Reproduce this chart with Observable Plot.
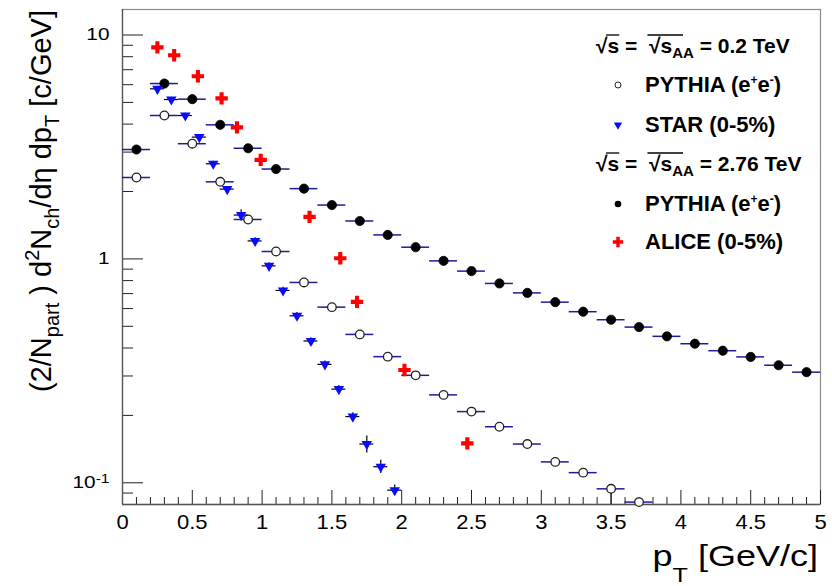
<!DOCTYPE html>
<html>
<head>
<meta charset="utf-8">
<script src="https://cdn.jsdelivr.net/npm/d3@7"></script>
<script src="https://cdn.jsdelivr.net/npm/@observablehq/plot@0.6"></script>
<style>
  body { margin: 0; background: #fff; }
  #fig { width: 832px; height: 586px; }
</style>
</head>
<body>
<div id="fig"></div>
<script>
// PYTHIA (e+e-), sqrt(s) = 2.76 TeV: bin centres (GeV/c) and yields
const pythia276Pt = [0.1, 0.3, 0.5, 0.7, 0.9, 1.1, 1.3, 1.5, 1.7, 1.9, 2.1, 2.3, 2.5,
                     2.7, 2.9, 3.1, 3.3, 3.5, 3.7, 3.9, 4.1, 4.3, 4.5, 4.7, 4.9];
const pythia276Yield = [3.08, 6.07, 5.17, 3.97, 3.12, 2.52, 2.06, 1.74, 1.477, 1.28, 1.128, 0.980, 0.882,
                        0.777, 0.705, 0.641, 0.581, 0.535, 0.496, 0.451, 0.418, 0.389, 0.365, 0.335, 0.312];

// PYTHIA (e+e-), sqrt(s) = 0.2 TeV
const pythia02Pt = [0.1, 0.3, 0.5, 0.7, 0.9, 1.1, 1.3, 1.5, 1.7, 1.9, 2.1, 2.3, 2.5,
                    2.7, 2.9, 3.1, 3.3, 3.5, 3.7];
const pythia02Yield = [2.31, 4.37, 3.27, 2.21, 1.50, 1.079, 0.785, 0.609, 0.460, 0.366, 0.302, 0.247, 0.208,
                       0.178, 0.149, 0.124, 0.111, 0.094, 0.082];
const pythia02ErrLow = [0, 0, 0, 0, 0, 0, 0, 0, 0, 0, 0, 0, 0,
                        0, 0, 0, 0, 0.016, 0.008];
const pythiaBinHalfWidth = 0.1;

// STAR Au+Au 0-5%, sqrt(s_NN) = 200 GeV
const starPt = [0.25, 0.35, 0.45, 0.55, 0.65, 0.75, 0.85, 0.95, 1.05, 1.15, 1.25, 1.35,
                1.45, 1.55, 1.65, 1.75, 1.85, 1.95];
const starYield = [5.75, 5.15, 4.37, 3.50, 2.66, 2.05, 1.57, 1.203, 0.931, 0.723, 0.557, 0.430,
                   0.338, 0.262, 0.1976, 0.149, 0.118, 0.0927];
const starErr = [0.15, 0.12, 0.10, 0.08, 0.07, 0.05, 0.09, 0.04, 0.03, 0.025, 0.02, 0.015,
                 0.012, 0.010, 0.008, 0.013, 0.008, 0.005];
const starBinHalfWidth = 0.05;

// ALICE Pb+Pb 0-5%, sqrt(s_NN) = 2.76 TeV
const alicePt = [0.25, 0.37, 0.54, 0.71, 0.82, 0.99, 1.34, 1.56, 1.68, 2.02, 2.47];
const aliceYield = [8.81, 8.12, 6.54, 5.21, 3.87, 2.77, 1.54, 1.007, 0.643, 0.319, 0.150];

// Axis ticks and labels
const xMajorTicks = [0, 0.5, 1, 1.5, 2, 2.5, 3, 3.5, 4, 4.5, 5];
const xTickLabels = ["0", "0.5", "1", "1.5", "2", "2.5", "3", "3.5", "4", "4.5", "5"];
const xMinorTicks = d3.range(1, 50).map(i => i / 10).filter(v => !xMajorTicks.includes(v));
const yMajorTicks = [0.1, 1, 10];
const yTickLabels = ["10-1", "1", "10"];   // "10-1" is drawn as 10 with a raised -1
const yMinorTicks = [0.09, 0.2, 0.3, 0.4, 0.5, 0.6, 0.7, 0.8, 0.9, 2, 3, 4, 5, 6, 7, 8, 9];

// Legend rows: energy headers and entries
const legendEnergies = ["0.2", "2.76"];
const legendEntries = [
  {marker: "open", label: "PYTHIA", ee: true},
  {marker: "star", label: "STAR (0-5%)"},
  {marker: "full", label: "PYTHIA", ee: true},
  {marker: "alice", label: "ALICE (0-5%)"}
];

const W = 832, H = 586;
const mL = 122, mR = 12, mT = 9, mB = 82;
const innerW = W - mL - mR, innerH = H - mT - mB;
const font = "'Liberation Sans', Arial, Helvetica, sans-serif";
const barBlue = "#1c1c9e";
const starBlue = "#0a0aff";
const aliceRed = "#ff0000";

const pythia276 = pythia276Pt.map((x, i) => ({x, y: pythia276Yield[i]}));
const pythia02 = pythia02Pt.map((x, i) => ({x, y: pythia02Yield[i], lo: pythia02ErrLow[i]}));
const star = starPt.map((x, i) => ({x, y: starYield[i], e: starErr[i]}));
const alice = alicePt.map((x, i) => ({x, y: aliceYield[i]}));

const chart = Plot.plot({
  width: W, height: H,
  marginLeft: mL, marginRight: mR, marginTop: mT, marginBottom: mB,
  style: {fontFamily: font, background: "white", color: "black"},
  x: {domain: [0, 5], label: null},
  y: {type: "log", domain: [0.08, 13], label: null},
  marks: [
    Plot.frame({stroke: "#8a8a8a", strokeWidth: 1.2}),
    // inward ticks
    Plot.ruleX(xMinorTicks, {x: d => d, insetTop: innerH - 7, stroke: "#222"}),
    Plot.ruleX(xMajorTicks, {x: d => d, insetTop: innerH - 14, stroke: "#222"}),
    Plot.ruleY(yMinorTicks, {y: d => d, insetRight: innerW - 11, stroke: "#222"}),
    Plot.ruleY(yMajorTicks, {y: d => d, insetRight: innerW - 21, stroke: "#222"}),
    Plot.ruleX([0], {stroke: "#555", strokeWidth: 1.3}),
    Plot.ruleY([0.08], {stroke: "#555", strokeWidth: 1.3}),
    Plot.axisX({ticks: xMajorTicks, tickSize: 0, tickPadding: 10, fontSize: 20,
                tickFormat: d => xTickLabels[xMajorTicks.indexOf(d)]}),
    Plot.axisY({ticks: yMajorTicks, tickSize: 0, tickPadding: 13, fontSize: 16,
                tickFormat: d => yTickLabels[yMajorTicks.indexOf(d)]}),

    // PYTHIA: bin-width bars
    Plot.ruleY(pythia276, {y: "y", x1: d => d.x - pythiaBinHalfWidth, x2: d => d.x + pythiaBinHalfWidth,
                           stroke: barBlue, strokeWidth: 1.5, clip: "frame"}),
    Plot.ruleY(pythia02, {y: "y", x1: d => d.x - pythiaBinHalfWidth, x2: d => d.x + pythiaBinHalfWidth,
                          stroke: barBlue, strokeWidth: 1.5, clip: "frame"}),
    Plot.ruleX(pythia02.filter(d => d.lo > 0), {x: "x", y1: d => d.y - d.lo, y2: "y",
                          stroke: "#222", strokeWidth: 1.2, clip: "frame"}),
    Plot.dot(pythia276, {x: "x", y: "y", r: 4.6, fill: "black", stroke: "black", strokeWidth: 0.8}),
    Plot.dot(pythia02, {x: "x", y: "y", r: 4.3, fill: "white", stroke: "#222", strokeWidth: 1.3}),

    // STAR
    Plot.ruleY(star, {y: "y", x1: d => d.x - starBinHalfWidth, x2: d => d.x + starBinHalfWidth,
                      stroke: "black", strokeWidth: 1.2, clip: "frame"}),
    Plot.ruleX(star, {x: "x", y1: d => d.y - d.e, y2: d => d.y + d.e, stroke: "black", strokeWidth: 1.2, clip: "frame"}),
    Plot.dot(star, {x: "x", y: "y", symbol: "triangle", rotate: 180, r: 3.9, fill: starBlue}),

    // ALICE
    Plot.dot(alice, {x: "x", y: "y", symbol: "cross", r: 5.2, fill: aliceRed})
  ]
});

document.getElementById("fig").appendChild(chart);

const svg = d3.select(chart);

// Wider tick label glyphs; exponent of the lowest decade as a superscript
svg.selectAll("g[aria-label$='tick label'] text").each(function() {
  const g = this.parentNode.getAttribute("aria-label") || "";
  const s = g.startsWith("x") ? "scale(1.1,1)" : "scale(1.3,1)";
  this.setAttribute("transform", (this.getAttribute("transform") || "") + " " + s);
  if (this.textContent === yTickLabels[0]) {
    const t = d3.select(this);
    t.text(null);
    t.append("tspan").text("10");
    t.append("tspan").attr("dy", "-0.45em").attr("font-size", 12).text("-1");
  }
});

const ann = svg.append("g").attr("font-family", font).attr("fill", "black");

// x-axis title: p_T [GeV/c]
const xt = ann.append("text").attr("text-anchor", "end").attr("font-size", 30)
  .attr("transform", "translate(818,566) scale(1.2,1)");
xt.append("tspan").text("p");
xt.append("tspan").attr("dy", 16).attr("font-size", 21).text("T");
xt.append("tspan").attr("dy", -16).text(" [GeV/c]");

// y-axis title: (2/N_part ) d^2N_ch/dη dp_T [c/GeV]
const yt = ann.append("text").attr("text-anchor", "end").attr("font-size", 29)
  .attr("transform", "translate(51,10) rotate(-90)");
yt.append("tspan").text("(2/N");
yt.append("tspan").attr("dy", 8).attr("font-size", 20).text("part");
yt.append("tspan").attr("dy", -8).text("\u00A0) d");
yt.append("tspan").attr("dy", -12).attr("font-size", 20).text("2");
yt.append("tspan").attr("dy", 12).text("N");
yt.append("tspan").attr("dy", 8).attr("font-size", 20).text("ch");
yt.append("tspan").attr("dy", -8).text("/d\u03B7 dp");
yt.append("tspan").attr("dy", 8).attr("font-size", 20).text("T");
yt.append("tspan").attr("dy", -8).text(" [c/GeV]");

// Legend
const lg = ann.append("g").attr("font-weight", "bold").attr("text-anchor", "start");
const lgX = 596, textX = 645, markX = 618;
const headerBaselines = [53, 171];
const entryBaselines = [92, 132, 211, 249];

legendEnergies.forEach((energy, k) => {
  const y = headerBaselines[k];
  const t = lg.append("text").attr("x", lgX).attr("y", y).attr("font-size", 21).style("white-space", "pre");
  t.append("tspan").text("\u221As = \u00A0\u221As");
  t.append("tspan").attr("dy", 5).attr("font-size", 15).text("AA");
  t.append("tspan").attr("dy", -5).text(` = ${energy} TeV`);
  const n = t.node();
  const r0 = n.getExtentOfChar(0), r1 = n.getExtentOfChar(1);
  const r5 = n.getExtentOfChar(5), r8 = n.getExtentOfChar(8);
  const oy = y - 18;
  lg.append("line").attr("x1", r0.x + r0.width - 1.5).attr("x2", r1.x + r1.width)
    .attr("y1", oy).attr("y2", oy).attr("stroke", "black").attr("stroke-width", 1.3);
  lg.append("line").attr("x1", r5.x + r5.width - 1.5).attr("x2", r8.x + r8.width)
    .attr("y1", oy).attr("y2", oy).attr("stroke", "black").attr("stroke-width", 1.3);
});

legendEntries.forEach((e, k) => {
  const y = entryBaselines[k];
  const cy = y - 7;
  const t = lg.append("text").attr("x", textX).attr("y", y).attr("font-size", 22);
  if (e.ee) {
    t.append("tspan").text(e.label + " (e");
    t.append("tspan").attr("dy", -8).attr("font-size", 12).text("+");
    t.append("tspan").attr("dy", 8).text("e");
    t.append("tspan").attr("dy", -8).attr("font-size", 12).text("-");
    t.append("tspan").attr("dy", 8).text(")");
  } else {
    t.text(e.label);
  }
  if (e.marker === "open") {
    lg.append("circle").attr("cx", markX).attr("cy", cy).attr("r", 3)
      .attr("fill", "white").attr("stroke", "#222").attr("stroke-width", 1);
  } else if (e.marker === "full") {
    lg.append("circle").attr("cx", markX).attr("cy", cy).attr("r", 3.3).attr("fill", "black");
  } else if (e.marker === "star") {
    lg.append("path").attr("d", d3.symbol(d3.symbolTriangle, 30)())
      .attr("transform", `translate(${markX},${cy}) rotate(180)`).attr("fill", starBlue);
  } else if (e.marker === "alice") {
    lg.append("path").attr("d", d3.symbol(d3.symbolCross, 60)())
      .attr("transform", `translate(${markX},${cy})`).attr("fill", aliceRed);
  }
});
</script>
</body>
</html>
